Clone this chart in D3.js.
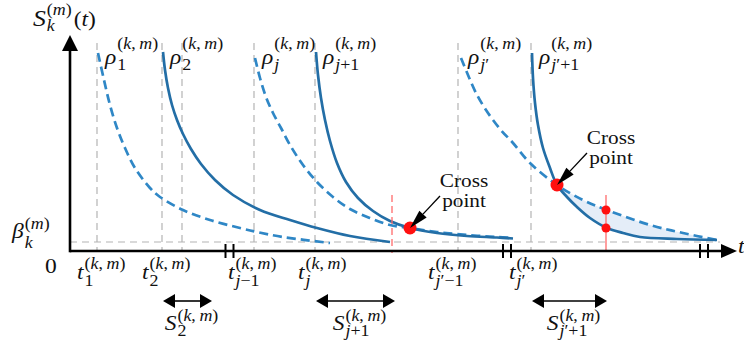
<!DOCTYPE html>
<html>
  <head>
    <title>Cross points sketch</title>
    <script src="https://d3js.org/d3.v7.min.js"></script>
    <style>
      body { margin: 0; background: #fff; }
    </style>
  </head>

  <body>
    <svg width="744" height="351"></svg>

    <script type="text/javascript">
      // ---- data (time units on x, S units on y) ----
      var gridX = [2.7, 9.2, 11.2, 18.4, 24.5, 38.8, 46.1];
      var gridTop = 20.8;
      var beta = 0.9;
      var betaEnd = 65;

      var rho1 = [[2.8,19.8],[3.4,17.1],[4.0,14.6],[4.7,12.3],[5.5,10.3],[6.5,8.3],[8.0,6.3],[9.0,5.4],[11.3,4.1],[14.0,3.1],[17.0,2.3],[18.7,1.9],[21.3,1.4],[26.0,0.8]];
      var rho2 = [[9.3,19.9],[9.5,18.1],[9.8,16.3],[10.2,14.6],[10.7,13.1],[11.3,11.7],[12.1,10.2],[13.1,8.7],[14.5,7.1],[16.3,5.6],[19.0,4.1],[22.0,3.1],[24.7,2.3],[28.0,1.5],[32.0,0.9]];
      var rhoJ = [[18.5,19.3],[19.0,17.3],[19.6,15.4],[20.3,13.8],[21.1,12.3],[22.0,10.6],[23.3,8.6],[24.7,6.9],[26.3,5.4],[28.0,4.2],[30.0,3.3],[32.0,2.6],[34.0,2.3],[36.7,1.9],[39.7,1.6],[42.7,1.4],[44.3,1.3]];
      var rhoJ1 = [[24.6,19.9],[24.8,17.6],[25.1,15.3],[25.5,13.1],[26.0,11.0],[26.7,8.8],[27.6,6.9],[28.8,5.3],[30.3,4.0],[32.0,3.0],[34.0,2.3],[36.7,1.8],[39.7,1.5],[42.7,1.35],[44.3,1.25]];
      var rhoJp = [[39.1,19.3],[39.8,17.6],[40.6,15.8],[41.6,14.1],[43.0,12.2],[44.3,10.8],[46.0,8.8],[48.7,6.6],[51.3,5.1],[53.7,4.1],[58.0,2.6],[61.3,1.8],[64.7,1.1]];
      var rhoJp1 = [[46.2,19.8],[46.3,17.3],[46.5,14.8],[46.8,12.6],[47.3,10.3],[48.0,8.3],[48.7,6.6],[49.7,5.4],[50.7,4.4],[52.0,3.3],[53.7,2.3],[55.3,1.8],[57.0,1.4],[60.7,1.2],[64.7,1.1]];

      var curves = [
        { pts: rho1, dashed: true, sub: "1" },
        { pts: rho2, dashed: false, sub: "2" },
        { pts: rhoJ, dashed: true, sub: "j" },
        { pts: rhoJ1, dashed: false, sub: "j+1" },
        { pts: rhoJp, dashed: true, sub: "j′" },
        { pts: rhoJp1, dashed: false, sub: "j′+1" }
      ];

      var crossPts = [[34.0, 2.3], [48.7, 6.6]];
      var redDashX = 32.2, redSolidX = 53.6, redTop = 5.6;
      var gapDots = [[53.6, 4.1], [53.6, 2.3]];

      var tTicks = [2.7, 9.2, 18.4, 24.5, 38.8, 46.1];
      var tSubs = ["1", "2", "j−1", "j", "j′−1", "j′"];
      var breakX = [15.95, 43.7, 63.4];

      var spans = [[9.3, 14.2], [24.6, 32.5], [46.2, 53.7]];
      var spanSubs = ["2", "j+1", "j′+1"];

      // ---- layout ----
      var tDx = [-20, -20, -26, -17, -30, -22];
      var solidColor = "#236ea6";
      var dashColor = "#2f87c6";
      var FONT = "Liberation Serif";
      var SX = 1.12; // horizontal text stretch

      var svg = d3.select("svg");
      var x = d3.scaleLinear().domain([0, 67]).range([70, 740]);
      var y = d3.scaleLinear().domain([0, 21.5]).range([251, 36]);

      // text piece: letters italic, the rest upright (like math mode), stretched by SX
      function piece(parent, x0, y0, str, size, anchor) {
        var g = parent.append("g").attr("transform", "translate(" + x0 + "," + y0 + ") scale(" + SX + ",1)");
        var t = g.append("text").attr("x", 0).attr("y", 0)
          .attr("font-family", FONT).attr("fill", "#111")
          .attr("font-size", size).attr("text-anchor", anchor || "start");
        var runs = str.match(/[A-Za-zρβ]+|[^A-Za-zρβ]+/g) || [];
        runs.forEach(function (r) {
          t.append("tspan")
            .attr("font-style", /[A-Za-zρβ]/.test(r) ? "italic" : "normal")
            .text(r);
        });
        return t.node().getComputedTextLength() * SX;
      }

      function mathLabel(x0, y0, main, sub, sup, o) {
        o = Object.assign({ size: 21, ssize: 16, supDy: -12, subDy: 6 }, o || {});
        var g = svg.append("g");
        var sx = x0 + piece(g, x0, y0, main, o.size) + 1;
        var end = sx;
        if (sup) end = Math.max(end, sx + piece(g, sx, y0 + o.supDy, sup, o.ssize));
        if (sub) end = Math.max(end, sx + piece(g, sx, y0 + o.subDy, sub, o.ssize));
        g.datum(end);
        return g;
      }

      var line = d3.line()
        .x(function (d) { return x(d[0]); })
        .y(function (d) { return y(d[1]); })
        .curve(d3.curveCatmullRom.alpha(0.5));

      // grid: gray dashed verticals and beta level
      svg.append("g").selectAll("line").data(gridX).enter().append("line")
        .attr("x1", function (d) { return x(d); }).attr("x2", function (d) { return x(d); })
        .attr("y1", y(gridTop)).attr("y2", y(0))
        .attr("stroke", "#b4b4b4").attr("stroke-width", 1.2).attr("stroke-dasharray", "7,5");
      svg.append("line")
        .attr("x1", x(0)).attr("x2", x(betaEnd)).attr("y1", y(beta)).attr("y2", y(beta))
        .attr("stroke", "#b4b4b4").attr("stroke-width", 1.2).attr("stroke-dasharray", "7,5");

      // shaded gap after the second cross point
      var cx2 = crossPts[1][0];
      var upper = rhoJp.filter(function (d) { return d[0] >= cx2; });
      var lower = rhoJp1.filter(function (d) { return d[0] >= cx2; }).slice().reverse();
      svg.append("path")
        .attr("d", line(upper) + "L" + line(lower).slice(1) + "Z")
        .attr("fill", "#e4edf8").attr("stroke", "none");

      // curves
      svg.append("g").selectAll("path").data(curves).enter().append("path")
        .attr("d", function (d) { return line(d.pts); })
        .attr("fill", "none")
        .attr("stroke", function (d) { return d.dashed ? dashColor : solidColor; })
        .attr("stroke-width", 2.7)
        .attr("stroke-dasharray", function (d) { return d.dashed ? "9,5" : null; });

      // red markers
      svg.append("line")
        .attr("x1", x(redDashX)).attr("x2", x(redDashX)).attr("y1", y(redTop)).attr("y2", y(0) + 2)
        .attr("stroke", "#ff6b6b").attr("stroke-width", 1.3).attr("stroke-dasharray", "7,4");
      svg.append("line")
        .attr("x1", x(redSolidX)).attr("x2", x(redSolidX)).attr("y1", y(redTop)).attr("y2", y(0))
        .attr("stroke", "#ff6b6b").attr("stroke-width", 1.3);
      svg.append("g").selectAll("circle").data(gapDots).enter().append("circle")
        .attr("cx", function (d) { return x(d[0]); }).attr("cy", function (d) { return y(d[1]); })
        .attr("r", 4.5).attr("fill", "#ff1010");
      svg.append("g").selectAll("circle").data(crossPts).enter().append("circle")
        .attr("cx", function (d) { return x(d[0]); }).attr("cy", function (d) { return y(d[1]); })
        .attr("r", 6.5).attr("fill", "#ff1010");

      // "Cross point" call-outs
      crossPts.forEach(function (c) {
        var px = x(c[0]), py = y(c[1]);
        var sx = px + 30, sy = py - 32;
        var ang = Math.atan2(py - sy, px - sx);
        var hl = 19, hw = 5;
        var bx = px - hl * Math.cos(ang), by = py - hl * Math.sin(ang);
        svg.append("line").attr("x1", sx).attr("y1", sy).attr("x2", bx).attr("y2", by)
          .attr("stroke", "#000").attr("stroke-width", 1.3);
        svg.append("path")
          .attr("d", "M" + px + "," + py +
            "L" + (bx + hw * Math.sin(ang)) + "," + (by - hw * Math.cos(ang)) +
            "L" + (bx - hw * Math.sin(ang)) + "," + (by + hw * Math.cos(ang)) + "Z")
          .attr("fill", "#000");
        ["Cross", "point"].forEach(function (w, i) {
          var g = svg.append("g").attr("transform", "translate(" + (px + 54) + "," + (py - 41 + i * 20) + ") scale(" + SX + ",1)");
          g.append("text").attr("text-anchor", "middle")
            .attr("font-family", FONT).attr("font-size", 19).attr("fill", "#111").text(w);
        });
      });

      // axes
      var x0 = x(0), y0 = y(0), xt = x(66.7), yt = y(21.6);
      svg.append("line").attr("x1", x0).attr("y1", y0).attr("x2", xt - 8).attr("y2", y0)
        .attr("stroke", "#000").attr("stroke-width", 2.6);
      svg.append("line").attr("x1", x0).attr("y1", y0 + 1.3).attr("x2", x0).attr("y2", yt + 8)
        .attr("stroke", "#000").attr("stroke-width", 2.6);
      svg.append("path").attr("d", "M" + xt + "," + y0 + "L" + (xt - 16) + "," + (y0 - 7) + "L" + (xt - 16) + "," + (y0 + 7) + "Z");
      svg.append("path").attr("d", "M" + x0 + "," + yt + "L" + (x0 - 8) + "," + (yt + 16) + "L" + (x0 + 8) + "," + (yt + 16) + "Z");

      // axis breaks
      breakX.forEach(function (b) {
        [-4, 4].forEach(function (dx) {
          svg.append("line").attr("x1", x(b) + dx).attr("x2", x(b) + dx)
            .attr("y1", y0 - 7).attr("y2", y0 + 7)
            .attr("stroke", "#000").attr("stroke-width", 2);
        });
      });

      // rho labels at curve tops
      curves.forEach(function (c) {
        mathLabel(x(c.pts[0][0]) + 7, 64, "ρ", c.sub, "(k,\u2009m)", { supDy: -15, subDy: 6 });
      });

      // t tick labels
      tTicks.forEach(function (t, i) {
        mathLabel(x(t) + tDx[i], 279, "t", tSubs[i], "(k,\u2009m)", { supDy: -10, subDy: 7 });
      });

      // axis labels
      var sl = mathLabel(33, 26, "S", "k", "(m)", { size: 23, supDy: -11, subDy: 5 });
      piece(svg, sl.datum() + 2, 26, "(t)", 21);
      mathLabel(12, 238, "β", "k", "(m)", { supDy: -9, subDy: 10 });
      piece(svg, 45, 273, "0", 21);
      piece(svg, 738, 253, "t", 21);

      // span arrows S_j
      spans.forEach(function (s, i) {
        var a = x(s[0]), b = x(s[1]), ay = 301;
        svg.append("line").attr("x1", a + 10).attr("x2", b - 10).attr("y1", ay).attr("y2", ay)
          .attr("stroke", "#000").attr("stroke-width", 1.6);
        svg.append("path").attr("d", "M" + a + "," + ay + "L" + (a + 12) + "," + (ay - 7) + "L" + (a + 12) + "," + (ay + 7) + "Z");
        svg.append("path").attr("d", "M" + b + "," + ay + "L" + (b - 12) + "," + (ay - 7) + "L" + (b - 12) + "," + (ay + 7) + "Z");
        var g = mathLabel(0, 330, "S", spanSubs[i], "(k,\u2009m)", { supDy: -9, subDy: 6 });
        var w = g.node().getBBox().width;
        g.attr("transform", "translate(" + ((a + b) / 2 + 4 - w / 2) + ",0)");
      });
    </script>
  </body>
</html>
